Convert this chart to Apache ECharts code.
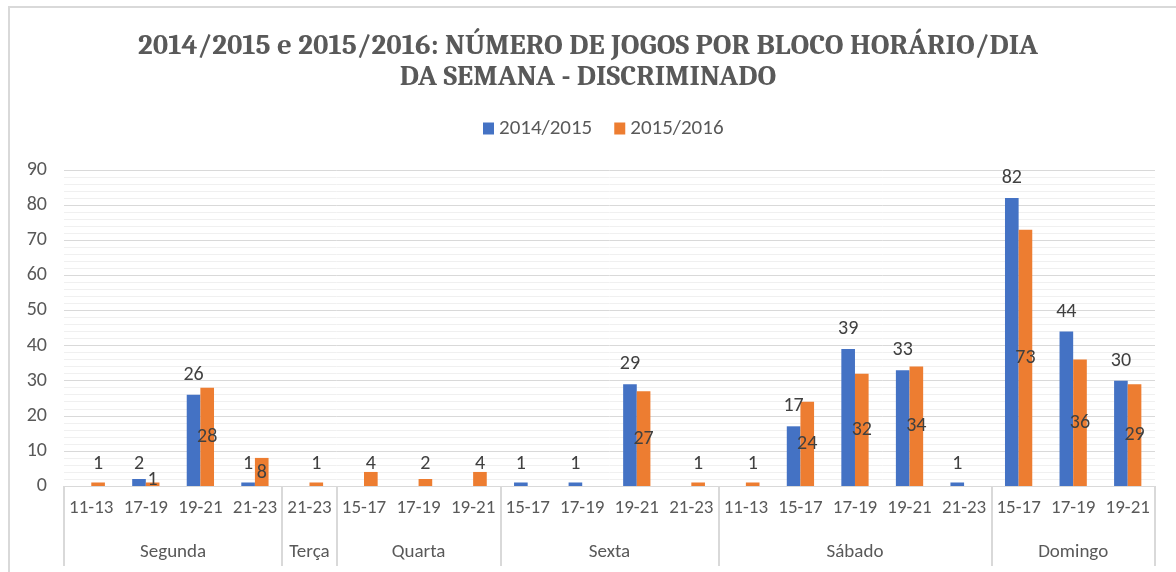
<!DOCTYPE html>
<html>
<head>
<meta charset="utf-8">
<script src="https://cdn.jsdelivr.net/npm/echarts@6/dist/echarts.min.js"></script>
<style>
  html, body { margin: 0; padding: 0; background: #fff; }
  #chart { width: 1176px; height: 572px; }
</style>
</head>
<body>
<div id="chart"></div>
<script>
// blocos horários (nível 1 do eixo)
const timeSlots = [
  '11-13', '17-19', '19-21', '21-23',
  '21-23',
  '15-17', '17-19', '19-21',
  '15-17', '17-19', '19-21', '21-23',
  '11-13', '15-17', '17-19', '19-21', '21-23',
  '15-17', '17-19', '19-21'
];
// dias da semana (nível 2) e quantos blocos cada um tem
const dayNames = ['Segunda', 'Terça', 'Quarta', 'Sexta', 'Sábado', 'Domingo'];
const daySlotCounts = [4, 1, 3, 4, 5, 3];

const games1415 = [0, 2, 26, 1, 0, 0, 0, 0, 1, 1, 29, 0, 0, 17, 39, 33, 1, 82, 44, 30];
const games1516 = [1, 1, 28, 8, 1, 4, 2, 4, 0, 0, 27, 1, 1, 24, 32, 34, 0, 73, 36, 29];

const seriesNames = ['2014/2015', '2015/2016'];
const yTicks = [0, 10, 20, 30, 40, 50, 60, 70, 80, 90];

const calibri = "Carlito, Calibri, 'Liberation Sans', sans-serif";
const cambria = "Caladea, Cambria, 'Liberation Serif', serif";

// início e centro de cada dia no eixo
let groupStarts = [];
let groupCenters = [];
let acc = 0;
daySlotCounts.forEach(n => {
  groupStarts.push(acc);
  groupCenters.push(acc + n / 2);
  acc += n;
});

// rótulos pequenos do Excel ficam "presos" perto da base
const orangeSmallDist = { 1: -4, 3: 3 };

function labelFor(v, idx, isBlue) {
  if (!v) return { show: false };
  if (v >= 10) {
    return isBlue
      ? { show: true, position: 'top', distance: 10 }
      : { show: true, position: 'inside' };
  }
  let d = 12;
  if (!isBlue && orangeSmallDist[idx] !== undefined) d = orangeSmallDist[idx];
  return { show: true, position: 'insideBottom', distance: d };
}

const chart = echarts.init(document.getElementById('chart'));

chart.setOption({
  animation: false,
  backgroundColor: '#fff',
  graphic: [{
    type: 'rect',
    shape: { x: 9, y: 7, width: 1200, height: 600 },
    style: { fill: 'none', stroke: '#d9d9d9', lineWidth: 2 },
    silent: true
  }],
  title: {
    text: '2014/2015 e 2015/2016: NÚMERO DE JOGOS POR BLOCO HORÁRIO/DIA\nDA SEMANA - DISCRIMINADO',
    left: 'center',
    top: 25,
    textStyle: {
      fontFamily: cambria,
      fontWeight: 'bold',
      fontSize: 29,
      lineHeight: 31,
      color: '#595959',
      align: 'center'
    }
  },
  legend: {
    top: 113,
    left: 478,
    icon: 'rect',
    itemWidth: 11,
    itemHeight: 12,
    itemGap: 22,
    data: seriesNames,
    textStyle: { fontFamily: calibri, fontSize: 21, color: '#595959' }
  },
  grid: { left: 64, right: 21, top: 170, bottom: 86 },
  xAxis: [
    {
      type: 'category',
      data: timeSlots,
      axisLine: { lineStyle: { color: '#d9d9d9', width: 1 } },
      axisTick: {
        show: true,
        length: 80,
        interval: function (index) { return groupStarts.indexOf(index) >= 0; },
        lineStyle: { color: '#d9d9d9', width: 2 }
      },
      axisLabel: {
        interval: 0,
        margin: 13,
        fontFamily: calibri,
        fontSize: 19,
        color: '#595959'
      },
      splitLine: { show: false }
    },
    {
      // dias da semana, centrados no seu grupo de blocos
      type: 'value',
      position: 'bottom',
      offset: 52,
      min: 0,
      max: timeSlots.length,
      interval: 0.5,
      axisLine: { show: false },
      axisTick: { show: false },
      splitLine: { show: false },
      axisLabel: {
        margin: 5,
        fontFamily: calibri,
        fontSize: 19,
        color: '#595959',
        formatter: function (v) {
          for (let i = 0; i < groupCenters.length; i++) {
            if (Math.abs(groupCenters[i] - v) < 0.01) return dayNames[i];
          }
          return '';
        }
      }
    }
  ],
  yAxis: {
    type: 'value',
    min: yTicks[0],
    max: yTicks[yTicks.length - 1],
    interval: 10,
    axisLine: { show: false },
    axisTick: { show: false },
    axisLabel: { margin: 17, fontFamily: calibri, fontSize: 20, color: '#595959' },
    splitLine: { lineStyle: { color: '#d9d9d9', width: 1 } },
    minorTick: { show: false, splitNumber: 5 },
    minorSplitLine: { show: true, lineStyle: { color: '#f0f0f0', width: 1 } }
  },
  series: [
    {
      name: seriesNames[0],
      type: 'bar',
      xAxisIndex: 0,
      barGap: '0%',
      barCategoryGap: '50%',
      itemStyle: { color: '#4472c4' },
      label: { fontFamily: calibri, fontSize: 20, color: '#404040' },
      data: games1415.map((v, i) => ({ value: v, label: labelFor(v, i, true) }))
    },
    {
      name: seriesNames[1],
      type: 'bar',
      xAxisIndex: 0,
      itemStyle: { color: '#ed7d31' },
      label: { fontFamily: calibri, fontSize: 20, color: '#404040' },
      data: games1516.map((v, i) => ({ value: v, label: labelFor(v, i, false) }))
    }
  ]
});

window.addEventListener('resize', () => {
  chart.resize();
});
</script>
</body>
</html>
